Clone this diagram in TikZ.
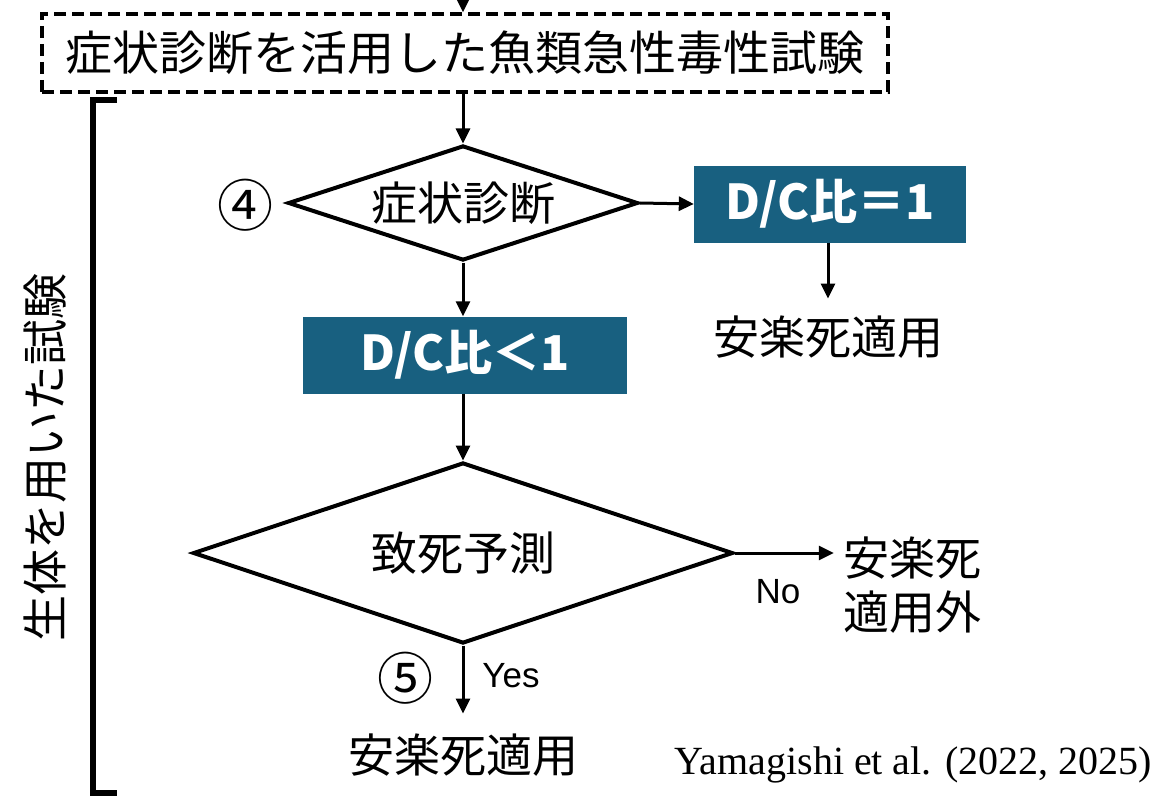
\documentclass[tikz,border=0pt]{standalone}
\usepackage{fontspec}
\setmainfont{Liberation Serif}
\newfontfamily\jp{Noto Sans CJK JP}
\newfontfamily\lat{Liberation Sans}
\usetikzlibrary{shapes.geometric,arrows.meta}
\definecolor{boxblue}{RGB}{24,96,128}
\begin{document}
\begin{tikzpicture}[x=1pt,y=-1pt,
  arr/.style={line width=3pt,-{Triangle[length=15pt,width=14pt]}},
  dia/.style={diamond,draw,line width=4pt,inner sep=0pt,aspect=3,font=\jp\fontsize{46}{50}\selectfont},
  bluebox/.style={fill=boxblue,text=white,inner sep=0pt,font=\jp\bfseries\fontsize{48}{52}\selectfont},
  lbl/.style={inner sep=0pt,font=\jp\fontsize{46}{54}\selectfont},
  circ/.style={inner sep=0pt,font=\jp\fontsize{56}{60}\selectfont},
  yn/.style={inner sep=0pt,font=\lat\fontsize{35}{38}\selectfont}]
\useasboundingbox (0,0) rectangle (1156,797);
\fill[white] (0,0) rectangle (1156,797);

\coordinate (top) at (463,-40);
\node[draw,dash pattern=on 12pt off 6pt,line width=3.5pt,minimum width=846pt,minimum height=78pt,inner sep=0pt,font=\jp\fontsize{47}{54}\selectfont] (title) at (465,53) {症状診断を活用した魚類急性毒性試験};

\node[dia,minimum width=350pt,minimum height=115pt] (d1) at (463,203) {症状診断};
\node[circ] (c4) at (245,205) {④};
\node[bluebox,minimum width=272pt,minimum height=77pt] (b1) at (830,204) {D/C比＝1};
\node[lbl] (r1) at (828,337) {安楽死適用};
\node[bluebox,minimum width=324pt,minimum height=77pt] (b2) at (465,355) {D/C比＜1};
\node[dia,minimum width=540pt,minimum height=181pt] (d2) at (463,553) {致死予測};
\node[lbl,align=center] (r2) at (912,585) {安楽死\\適用外};
\node[lbl] (r3) at (463,755) {安楽死適用};
\node[circ] (c5) at (405,678) {⑤};
\node[yn] (yes) at (511,676) {Yes};
\node[yn] (no) at (778,592) {No};
\node[anchor=east,inner sep=0pt,font=\fontsize{40}{44}\selectfont] (ref) at (1152,765) {Yamagishi et al. (2022, 2025)};

\node[lbl,rotate=90] (side) at (45,457) {生体を用いた試験};
\draw[line width=6pt] (117,100) -- (93,100) -- (93,793) -- (117,793);

\draw[arr] (top) -- (top|-title.north);
\draw[arr] (title.south -| d1.north) -- (d1.north);
\draw[arr] (d1.east) -- (b1.west);
\draw[arr,shorten >=17pt] (b1.south -| r1.north) -- (r1.north);
\draw[arr] (d1.south) -- (b2.north -| d1.south);
\draw[arr] (b2.south -| d2.north) -- (d2.north);
\draw[arr] (d2.east) -- ([xshift=-9pt]d2.east -| r2.west);
\draw[arr,shorten >=20pt] (d2.south) -- (r3.north);
\end{tikzpicture}
\end{document}
